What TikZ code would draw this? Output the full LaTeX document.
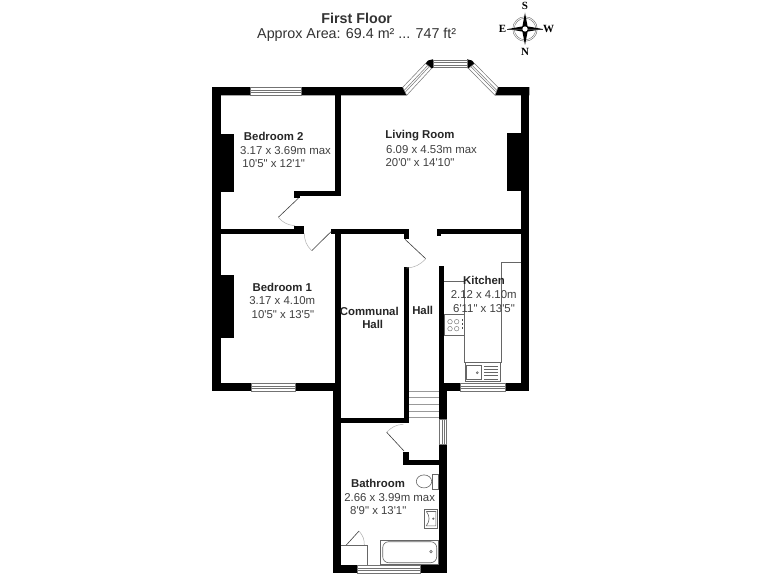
\documentclass[tikz,border=0pt]{standalone}
\usepackage{fontspec}
\usepackage{tikz}
\usetikzlibrary{calc}
\newfontfamily\planfont{Liberation Sans}
\newfontfamily\compassfont{Liberation Serif}
\tikzset{
	wall/.style={fill=black,draw=none},
	pane/.style={draw=black!55,line width=0.5pt,fill=white},
	fitting/.style={draw=black!60,line width=0.6pt},
	leaf/.style={draw=black!75,line width=0.6pt},
	swing/.style={draw=black!30,line width=0.5pt},
	roomname/.style={font=\planfont\bfseries\fontsize{11.4}{13}\selectfont,text=black!85,inner sep=0pt},
	roomsize/.style={font=\planfont\fontsize{11.4}{13}\selectfont,text=black!75,inner sep=0pt},
	heading/.style={font=\planfont\fontsize{14.3}{16}\selectfont,text=black!80,inner sep=0pt},
	point/.style={font=\compassfont\bfseries\fontsize{11}{12}\selectfont,inner sep=0pt}
}
\begin{document}
\begin{tikzpicture}[x=1pt,y=-1pt]
			\useasboundingbox (0,0) rectangle (768,576);
			\fill[white] (0,0) rectangle (768,576);
			\fill[wall] (212,87) -- (402.7,87) -- (406.7,95.3) -- (212,95.3) -- cycle;
			\fill[wall] (498,87) -- (529.3,87) -- (529.3,95.3) -- (495,95.3) -- cycle;
			\fill[wall] (212,87) rectangle (220.7,391.3);
			\fill[wall] (521,87) rectangle (529.3,391.3);
			\fill[wall] (212,383.3) rectangle (340.7,391.3);
			\fill[wall] (439,383.3) rectangle (529.3,391.3);
			\fill[wall] (220,134) rectangle (234.3,192);
			\fill[wall] (506.7,132.7) rectangle (521,190.7);
			\fill[wall] (220,275) rectangle (234.3,338);
			\fill[wall] (335,95) rectangle (340.7,196);
			\fill[wall] (294.3,190.7) rectangle (340.7,196);
			\fill[wall] (294.3,190.7) rectangle (300,198);
			\fill[wall] (220,229.3) rectangle (303.7,234.3);
			\fill[wall] (294.3,226) rectangle (303.7,234.3);
			\fill[wall] (331,229.3) rectangle (409,234.3);
			\fill[wall] (403.7,229.3) rectangle (409,238.7);
			\fill[wall] (436.7,229.3) rectangle (521,234.3);
			\fill[wall] (436.7,229.3) rectangle (441,236);
			\fill[wall] (335,234) rectangle (340.7,384);
			\fill[wall] (332.7,383.3) rectangle (340.7,573.3);
			\fill[wall] (403.7,267.3) rectangle (409.3,423.3);
			\fill[wall] (340.7,418.3) rectangle (409.3,423.3);
			\fill[wall] (438.7,265.7) rectangle (444.3,384);
			\fill[wall] (439,383.3) rectangle (446.7,573.3);
			\fill[wall] (332.7,565) rectangle (446.7,573.3);
			\fill[wall] (403.3,451.7) rectangle (409.3,465);
			\fill[wall] (403.3,460) rectangle (439.5,465);
			\fill[wall] (428,60.5) -- (433,59.3) -- (433,67.8) -- (431.5,68.5) -- (425.5,63.5) -- cycle;
			\fill[wall] (472,60.5) -- (467,59.3) -- (467,67.8) -- (468.5,68.5) -- (474.5,63.5) -- cycle;

			\coordinate (bayla) at (402.7,87.3);
			\coordinate (baylb) at (425.5,63.5);
			\coordinate (baylc) at (431.5,68.5);
			\coordinate (bayld) at (406.7,95.3);
			\coordinate (bayra) at (498,87.3);
			\coordinate (bayrb) at (474.5,63.5);
			\coordinate (bayrc) at (468.5,68.5);
			\coordinate (bayrd) at (495,95.3);
			\draw[pane] (bayla) -- (baylb) -- (baylc) -- (bayld) -- cycle;
			\draw[pane] ($(bayla)!0.38!(bayld)$) -- ($(baylb)!0.38!(baylc)$);
			\draw[pane] ($(bayla)!0.62!(bayld)$) -- ($(baylb)!0.62!(baylc)$);
			\draw[pane] (bayra) -- (bayrb) -- (bayrc) -- (bayrd) -- cycle;
			\draw[pane] ($(bayra)!0.38!(bayrd)$) -- ($(bayrb)!0.38!(bayrc)$);
			\draw[pane] ($(bayra)!0.62!(bayrd)$) -- ($(bayrb)!0.62!(bayrc)$);
			\draw[pane] (433,60) rectangle (467,67.5);
			\draw[pane] (433,62.3) -- (467,62.3);
			\draw[pane] (433,65.2) -- (467,65.2);
			\draw[pane] (250.7,87) rectangle (301,95.3);
			\draw[pane] (250.7,90) -- (301,90);
			\draw[pane] (250.7,92.5) -- (301,92.5);
			\draw[pane] (251,383.3) rectangle (295.7,391.3);
			\draw[pane] (251,386.2) -- (295.7,386.2);
			\draw[pane] (251,388.6) -- (295.7,388.6);
			\draw[pane] (460,383.3) rectangle (505.3,391.3);
			\draw[pane] (460,386.2) -- (505.3,386.2);
			\draw[pane] (460,388.6) -- (505.3,388.6);
			\draw[pane] (357.7,565) rectangle (420,573.3);
			\draw[pane] (357.7,568) -- (420,568);
			\draw[pane] (357.7,570.5) -- (420,570.5);
			\draw[pane] (439.3,419.3) rectangle (446.7,444);
			\draw[pane] (442,419.3) -- (442,444);
			\draw[pane] (444.2,419.3) -- (444.2,444);

			\coordinate (bedtwohinge) at (298.3,198.3);
			\coordinate (bedtwotip) at (278.3,217.3);
			\coordinate (bedtwoend) at (295,225.7);
			\draw[leaf] (bedtwohinge) -- (bedtwotip);
			\draw[swing] (bedtwotip) to[bend right=22] (bedtwoend);
			\coordinate (bedonehinge) at (331,231.7);
			\coordinate (bedonetip) at (311.7,250.7);
			\coordinate (bedoneend) at (304.3,233.3);
			\draw[leaf] (bedonehinge) -- (bedonetip);
			\draw[swing] (bedonetip) to[bend left=22] (bedoneend);
			\coordinate (hallhinge) at (405,239.3);
			\coordinate (halltip) at (425.7,258.7);
			\coordinate (hallend) at (406.7,268);
			\draw[leaf] (hallhinge) -- (halltip);
			\draw[swing] (halltip) to[bend left=22] (hallend);
			\coordinate (bathhinge) at (404,451);
			\coordinate (bathtip) at (386.7,432.3);
			\coordinate (bathend) at (403.3,424.3);
			\draw[leaf] (bathhinge) -- (bathtip);
			\draw[swing] (bathtip) to[bend left=22] (bathend);
			\coordinate (cupboardhinge) at (345.7,545.7);
			\coordinate (cupboardtip) at (359,531);
			\coordinate (cupboardend) at (364.3,545.7);
			\draw[leaf] (cupboardhinge) -- (cupboardtip);
			\draw[swing] (cupboardtip) to[bend left=22] (cupboardend);

			\draw[fitting] (340.7,545.7) -- (367.7,545.7) -- (367.7,565);
			\draw[fitting] (521,262.3) -- (501.7,262.3) -- (501.7,362.7) -- (464.5,362.7) -- (464.5,281.2) -- (444.3,281.2);
			\draw[fitting] (465,362.7) rectangle (500.7,381.7);
			\draw[fitting] (466.7,365.3) rectangle (481.7,379.3);
			\draw[fitting] (477.3,372.7) circle [radius=1];
			\foreach \drainy in {366,369.2,372.4,375.6,378.8}
				\draw[fitting,line width=0.4pt] (484,\drainy) -- (498,\drainy);
			\draw[fitting] (444.3,314.7) rectangle (464.5,335.7);
			\foreach \ringx in {450,456.7}
				\foreach \ringy in {321.7,328.7}
					\draw[fitting,line width=0.4pt] (\ringx,\ringy) circle [radius=2.3];
			\fill[black!70] (462,319) rectangle (463,321);
			\fill[black!70] (462,323) rectangle (463,325);
			\fill[black!70] (462,327) rectangle (463,329);
			\foreach \tready in {391,397.7,404.7,411.3,417.7}
				\draw[fitting,black!40,line width=0.5pt] (409.3,\tready) -- (439,\tready);
			\draw[fitting] (380.7,540) rectangle (438.3,564.3);
			\draw[fitting,rounded corners=6pt] (382.7,541.7) rectangle (436.7,562.7);
			\draw[fitting] (431,551.7) circle [radius=1.3];
			\draw[fitting] (432,474.3) rectangle (438.3,489);
			\draw[fitting,fill=white] (424,481.4) ellipse [x radius=7.7,y radius=6.5];
			\draw[fitting] (424,509) rectangle (437.7,528.3);
			\draw[fitting] (426.3,511.5) -- (435.8,511.5) -- (435.8,525.8) -- (426.3,525.8) .. controls (430,521) and (430,516) .. (426.3,511.5);
			\draw[fitting] (433.3,518.7) circle [radius=0.8];

			\node[heading,font=\planfont\bfseries\fontsize{14.3}{16}\selectfont] (title) at (356.7,18) {First Floor};
			\node[heading] (area) at (356.7,35.3) {Approx Area: 69.4 m² ... 747 ft²};
			\node[roomname] (bedtwo) at (273.7,136.5) {Bedroom 2};
			\node[roomsize] (bedtwosize) at (285.5,150.5) {3.17 x 3.69m max};
			\node[roomsize] (bedtwoimp) at (273.7,164) {10'5" x 12'1"};
			\node[roomname] (living) at (420,136) {Living Room};
			\node[roomsize] (livingsize) at (431.5,149.5) {6.09 x 4.53m max};
			\node[roomsize] (livingimp) at (420,163) {20'0" x 14'10"};
			\node[roomname] (bedone) at (282.3,287) {Bedroom 1};
			\node[roomsize] (bedonesize) at (282.3,301) {3.17 x 4.10m};
			\node[roomsize] (bedoneimp) at (283,315) {10'5" x 13'5"};
			\node[roomname] (communal) at (369.3,311.3) {Communal};
			\node[roomname] (communalhall) at (372.7,324.7) {Hall};
			\node[roomname] (hall) at (422.7,310.3) {Hall};
			\node[roomname] (kitchen) at (484,280.7) {Kitchen};
			\node[roomsize] (kitchensize) at (483.7,294.7) {2.12 x 4.10m};
			\node[roomsize] (kitchenimp) at (484,308.7) {6'11" x 13'5"};
			\node[roomname] (bath) at (378,483) {Bathroom};
			\node[roomsize] (bathsize) at (389.7,497.3) {2.66 x 3.99m max};
			\node[roomsize] (bathimp) at (378.3,511) {8'9" x 13'1"};

			\draw[black!60,line width=0.4pt] (525,29) circle [radius=12.3];
			\draw[black!60,line width=0.4pt] (525,29) circle [radius=10.8];
			\fill (525,12.7) -- (527.6,26.4) -- (542.7,29) -- (527.6,31.6) -- (525,45) -- (522.4,31.6) -- (508,29) -- (522.4,26.4) -- cycle;
			\draw[black!80,line width=0.5pt] (507,29) -- (543,29);
			\fill[white] (525,29) circle [radius=2.6];
			\node[point] (south) at (525,6) {S};
			\node[point] (north) at (525,51.5) {N};
			\node[point] (east) at (502.5,29) {E};
			\node[point] (west) at (548.5,29) {W};
		\end{tikzpicture}
\end{document}
